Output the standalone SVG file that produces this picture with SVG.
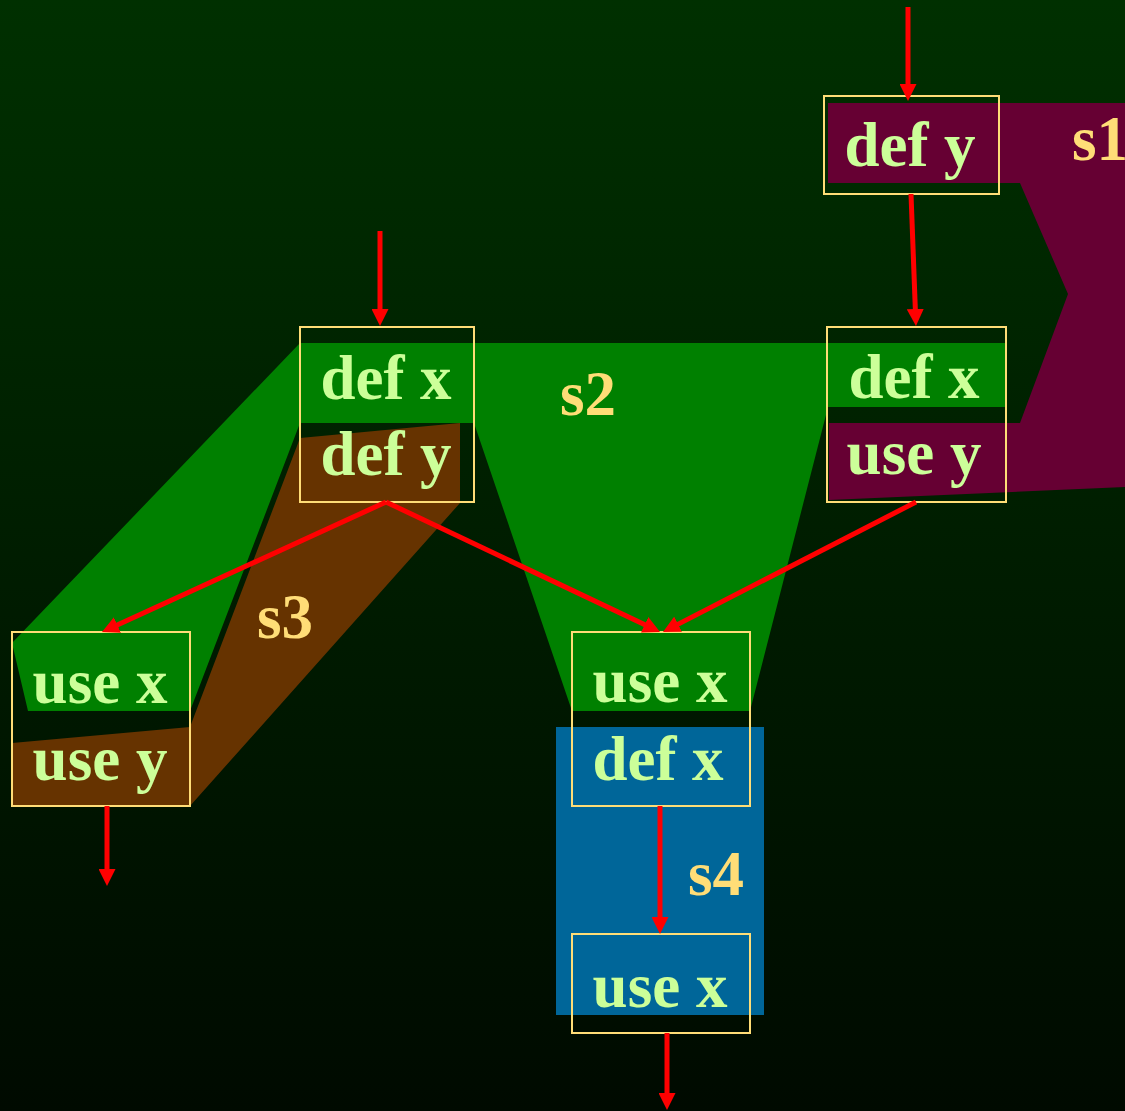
<svg xmlns="http://www.w3.org/2000/svg" width="1125" height="1111" viewBox="0 0 1125 1111">
<defs>
<linearGradient id="bg" x1="0" y1="0" x2="0" y2="1">
<stop offset="0" stop-color="#003000"/>
<stop offset="1" stop-color="#000a00"/>
</linearGradient>
<marker id="ah" viewBox="0 0 17 17" markerWidth="17" markerHeight="17" refX="2" refY="8.5" orient="auto" markerUnits="userSpaceOnUse">
<path d="M0,0 L17,8.5 L0,17 z" fill="#ff0000"/>
</marker>
<style>
.box{fill:none;stroke:#ffdd77;stroke-width:2}
.t{font-family:"Liberation Serif","Times New Roman",serif;font-weight:bold;font-size:63px;fill:#ccff99;text-anchor:middle}
.lbl{font-family:"Liberation Serif","Times New Roman",serif;font-weight:bold;font-size:63px;fill:#ffdd77}
.c{fill:none;stroke:#ff0000;stroke-width:5;marker-end:url(#ah)}
</style>
</defs>
<rect x="0" y="0" width="1125" height="1111" fill="url(#bg)"/>
<g id="regions">
<polygon id="s1" fill="#660033" points="828,103 1125,103 1125,487 829,500 829,423 1020,423 1068,294 1020,183 828,183"/>
<polygon id="s2" fill="#008000" points="300,343 1005,343 1005,407 828,407 750,711 572,711 474,423 300,423 190,711 28,711 12,643"/>
<polygon id="s3" fill="#663300" points="300,438 460,423 460,503 190,806 12,806 12,743 190,727"/>
<rect id="s4" fill="#006699" x="556" y="727" width="208" height="288"/>
<text class="lbl" x="1072" y="160">s1</text>
<text class="lbl" x="560" y="415">s2</text>
<text class="lbl" x="257" y="638">s3</text>
<text class="lbl" x="688" y="895">s4</text>
</g>
<g id="n1">
<rect class="box" x="824" y="96" width="175" height="98"/>
<text class="t" x="910" y="166">def y</text>
</g>
<g id="n2">
<rect class="box" x="300" y="327" width="174" height="175"/>
<text class="t" x="386" y="399">def x</text>
<text class="t" x="386" y="475">def y</text>
</g>
<g id="n3">
<rect class="box" x="827" y="327" width="179" height="175"/>
<text class="t" x="914" y="398">def x</text>
<text class="t" x="914" y="474">use y</text>
</g>
<g id="n4">
<rect class="box" x="12" y="632" width="178" height="174"/>
<text class="t" x="100" y="703">use x</text>
<text class="t" x="100" y="780">use y</text>
</g>
<g id="n5">
<rect class="box" x="572" y="632" width="178" height="174"/>
<text class="t" x="660" y="702">use x</text>
<text class="t" x="658" y="780">def x</text>
</g>
<g id="n6">
<rect class="box" x="572" y="934" width="178" height="99"/>
<text class="t" x="660" y="1007">use x</text>
</g>
<g id="connectors">
<path class="c" d="M908,7 L908,86"/>
<path class="c" d="M911,194 L915.4,311"/>
<path class="c" d="M380,231 L380,311"/>
<path class="c" d="M386,502 L115.6,625.8"/>
<path class="c" d="M386,502 L646.5,625.6"/>
<path class="c" d="M916,502 L676.3,625.1"/>
<path class="c" d="M107,806 L107,871"/>
<path class="c" d="M660,806 L660,919"/>
<path class="c" d="M667,1033 L667,1095"/>
</g>
</svg>
